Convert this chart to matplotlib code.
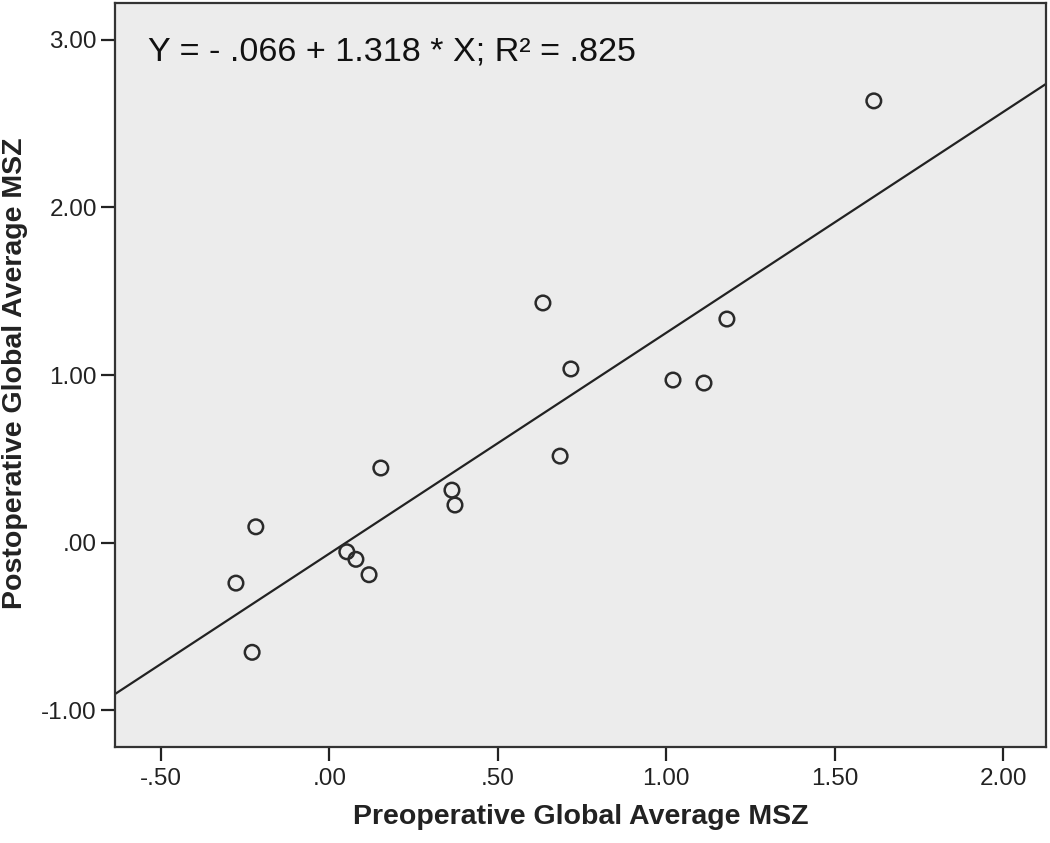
import numpy as np
import matplotlib
matplotlib.use("Agg")
import matplotlib.pyplot as plt

plt.rcParams['font.family'] = ['Liberation Sans', 'DejaVu Sans']

pre_msz = [1.616, 0.634, 1.180, 0.717, 1.020, 1.112, 0.685, 0.153,
           0.364, 0.373, -0.218, 0.052, 0.079, 0.118, -0.277, -0.229]
post_msz = [2.636, 1.430, 1.334, 1.036, 0.970, 0.952, 0.516, 0.445,
            0.313, 0.224, 0.094, -0.055, -0.100, -0.192, -0.242, -0.655]

intercept = -0.066
slope = 1.318

x_ticks = [-0.5, 0.0, 0.5, 1.0, 1.5, 2.0]
x_tick_labels = ['-.50', '.00', '.50', '1.00', '1.50', '2.00']
y_ticks = [-1.0, 0.0, 1.0, 2.0, 3.0]
y_tick_labels = ['-1.00', '.00', '1.00', '2.00', '3.00']

fig = plt.figure(figsize=(10.5, 8.43), dpi=100)
ax = fig.add_axes([0.1095, 0.1139, 0.8867, 0.8825])
ax.set_facecolor('#ececec')

xlim = (-0.636, 2.127)
ylim = (-1.22, 3.22)

xs = np.array(xlim)
ax.plot(xs, intercept + slope * xs, color='#222222', lw=1.6, zorder=2)
ax.scatter(pre_msz, post_msz, s=110, facecolors='none', edgecolors='#2a2a2a',
           linewidths=1.8, zorder=3)

ax.set_xlim(xlim)
ax.set_ylim(ylim)
ax.set_xticks(x_ticks)
ax.set_xticklabels(x_tick_labels)
ax.set_yticks(y_ticks)
ax.set_yticklabels(y_tick_labels)
ax.tick_params(length=10, width=1.6, labelsize=17.5, colors='#222222')
ax.tick_params(axis='y', pad=3)
ax.tick_params(axis='x', pad=5)

for s in ax.spines.values():
    s.set_linewidth(1.6)
    s.set_color('#333333')

ax.text(-0.538, 2.93, 'Y = - .066 + 1.318 * X; R² = .825', fontsize=24.6,
        va='center', ha='left', color='#111111')

ax.set_xlabel('Preoperative Global Average MSZ', fontsize=20.5, fontweight='bold',
              color='#222222')
ax.set_ylabel('Postoperative Global Average MSZ', fontsize=20.5, fontweight='bold',
              color='#222222')
ax.xaxis.set_label_coords(0.5, -0.077)
ax.yaxis.set_label_coords(-0.093, 0.503)

fig.savefig('out.png', dpi=100)
